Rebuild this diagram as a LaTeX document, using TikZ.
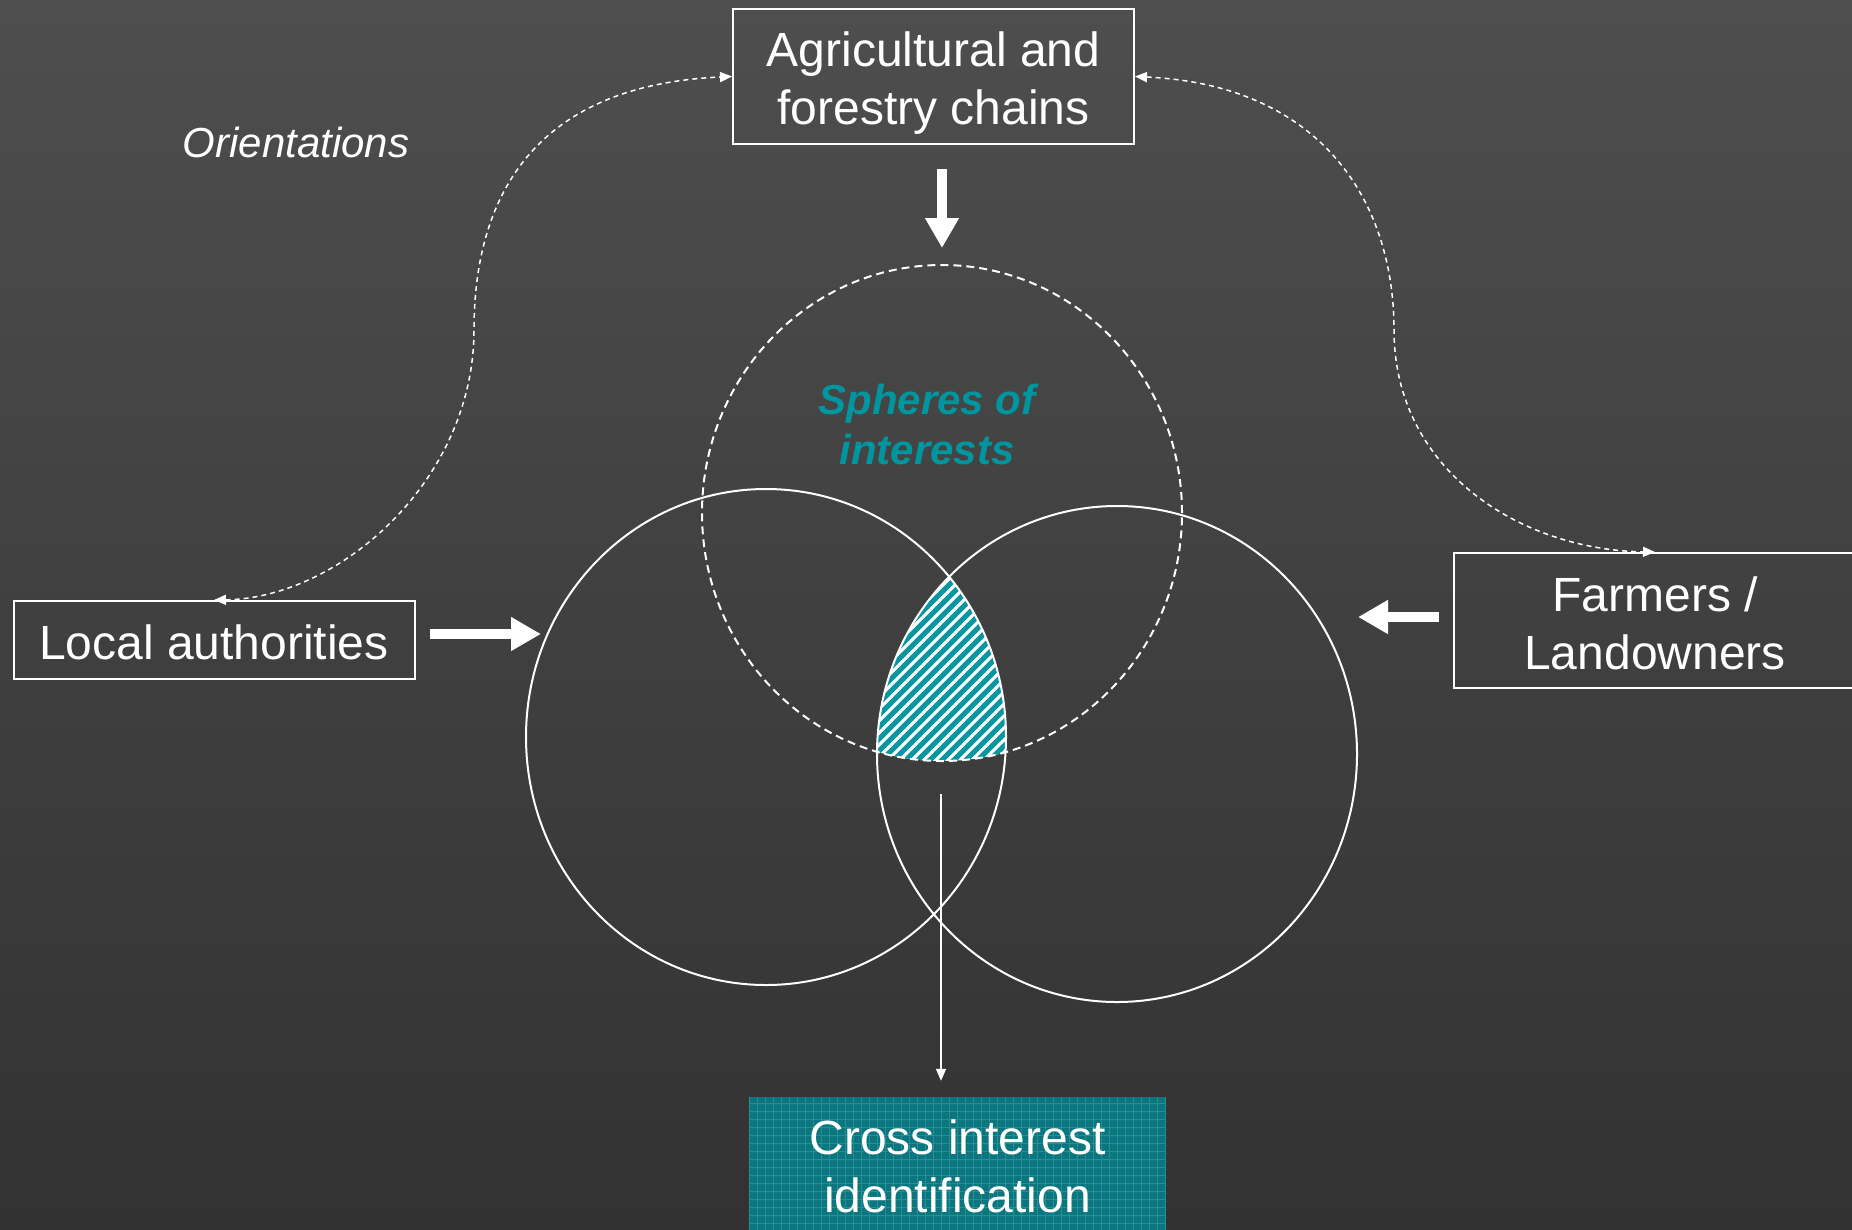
\documentclass[tikz,border=0pt]{standalone}
\usepackage{fontspec}
\setmainfont{Liberation Sans}
\usetikzlibrary{arrows.meta}
\definecolor{bgtop}{RGB}{78,78,78}
\definecolor{bgbot}{RGB}{50,50,50}
\definecolor{tealtxt}{RGB}{0,150,160}
\definecolor{hatchteal}{RGB}{10,150,160}
\definecolor{crossfill}{RGB}{12,118,126}
\definecolor{crossgrid}{RGB}{38,142,150}
\begin{document}
\begin{tikzpicture}[x=1pt,y=-1pt,
  box/.style={draw=white, line width=2pt, inner sep=0pt},
  boxtext/.style={text=white, align=center, font=\fontsize{48}{58}\selectfont, inner sep=0pt},
  ring/.style={draw=white, line width=2pt},
  dashring/.style={draw=white, line width=2pt, dash pattern=on 8pt off 5pt},
  orientline/.style={draw=white, line width=1.5pt, dash pattern=on 5pt off 4pt,
    {Triangle[length=12pt,width=10pt]}-{Triangle[length=12pt,width=10pt]}},
  fatarrow/.style={draw=white, line width=10pt, -{Triangle[length=30pt,width=32pt]}},
  thinarrow/.style={draw=white, line width=1.5pt, -{Triangle[length=12pt,width=10pt]}},
  crossbox/.style={fill=crossfill, inner sep=0pt,
    path picture={
      \foreach \k in {0,...,55}{
        \draw[crossgrid, line width=1pt]
          ([xshift=\k*8pt]path picture bounding box.south west) --
          ([xshift=\k*8pt]path picture bounding box.north west);}
      \foreach \k in {0,...,18}{
        \draw[crossgrid, line width=1pt]
          ([yshift=\k*8pt]path picture bounding box.south west) --
          ([yshift=\k*8pt]path picture bounding box.south east);}
    }}]
\useasboundingbox (0,0) rectangle (1852,1229);
\shade[top color=bgtop, bottom color=bgbot] (0,0) rectangle (1852,1229);

% hatched intersection
\begin{scope}
  \clip (766,737) ellipse [x radius=240pt, y radius=248pt];
  \clip (1117,754) ellipse [x radius=240pt, y radius=248pt];
  \clip (942,513) ellipse [x radius=240pt, y radius=248pt];
  \fill[white] (840,540) rectangle (1060,800);
  \foreach \i in {0,...,30}
    \draw[hatchteal, line width=5pt] (630+12*\i,820) -- ++(340,-340);
\end{scope}

% circles
\draw[ring] (766,737) ellipse [x radius=240pt, y radius=248pt];
\draw[ring] (1117,754) ellipse [x radius=240pt, y radius=248pt];
\draw[dashring] (942,513) ellipse [x radius=240pt, y radius=248pt];

% boxes
\node[box, minimum width=401pt, minimum height=135pt] (agri) at (933.5,76.5) {};
\node[boxtext] (agritxt) at ([yshift=-7pt]agri.center) {Agricultural and\\forestry chains};
\node[box, minimum width=401pt, minimum height=78pt] (local) at (214,640) {};
\node[boxtext] (localtxt) at ([yshift=-2pt]local.center) {Local authorities};
\node[box, minimum width=402pt, minimum height=135pt] (farm) at (1655,620.5) {};
\node[boxtext] (farmtxt) at ([yshift=-3pt]farm.center) {Farmers /\\Landowners};
\node[crossbox, minimum width=417pt, minimum height=134pt] (cross) at (957.5,1164) {};
\node[boxtext] (crosstxt) at ([yshift=-2pt]cross.center) {Cross interest\\identification};

% texts
\node[text=tealtxt, align=center, font=\fontsize{42}{50}\selectfont\bfseries\itshape]
  (spheres) at (927,424) {Spheres of\\interests};
\node[text=white, font=\fontsize{42}{50}\selectfont\itshape] (orient) at (296,142)
  {Orientations};

% dashed orientation curves
\draw[orientline] (local.north) .. controls (340,598) and (474,480) .. (474,330)
  .. controls (474,190) and (540,85) .. (agri.west);
\draw[orientline] (agri.east) .. controls (1320,85) and (1394,200) .. (1394,330)
  .. controls (1394,470) and (1520,550) .. (farm.north);

% fat arrows
\coordinate (t1) at (942,169);
\coordinate (t2) at (942,248);
\coordinate (l1) at (430,634);
\coordinate (l2) at (541,634);
\coordinate (r1) at (1439,617);
\coordinate (r2) at (1358,617);
\draw[fatarrow] (t1) -- (t2);
\draw[fatarrow] (l1) -- (l2);
\draw[fatarrow] (r1) -- (r2);

% thin arrow
\coordinate (hb) at (941,794);
\draw[thinarrow] (hb) -- ([yshift=16pt]cross.north -| hb);
\end{tikzpicture}
\end{document}
